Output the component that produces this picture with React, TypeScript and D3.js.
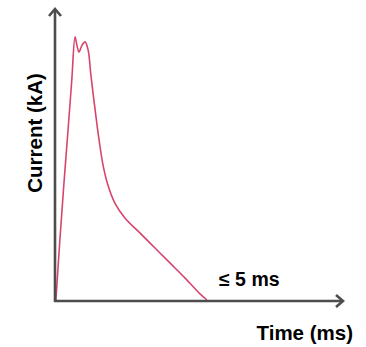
import React from "react";
import * as d3 from "d3";

const timeMs = [0.03, 0.15, 0.28, 0.42, 0.55, 0.66, 0.72, 0.79, 0.89, 0.99, 1.09, 1.18, 1.32, 1.45, 1.58, 1.74, 1.97, 2.3, 2.8, 3.29, 3.78, 4.28, 4.77, 5.0];
const currentKA = [0, 19, 38, 57, 75, 90.1, 87.3, 84.9, 87.3, 88.4, 85.6, 77.1, 65.1, 54.8, 46.2, 39.4, 33.2, 28.1, 22.9, 17.8, 12.7, 7.5, 2.1, 0];
const xLabel = "Time (ms)";
const yLabel = "Current (kA)";
const durationLabel = "≤ 5 ms";

const W = 366;
const H = 347;
const ox = 55;
const oy = 301;
const xEnd = 344;
const yEnd = 8;

export default function App() {
  const x = d3.scaleLinear().domain([0, 5]).range([ox, 207]);
  const y = d3.scaleLinear().domain([0, 100]).range([300, yEnd]);
  const data = timeMs.map((t, i) => [t, currentKA[i]] as [number, number]);
  const line = d3
    .line<[number, number]>()
    .x((d) => x(d[0]))
    .y((d) => y(d[1]))
    .curve(d3.curveCatmullRom.alpha(0.5));
  const axisColor = "#4d4d4d";
  const font = "'Liberation Sans', Arial, sans-serif";
  return (
    <svg
      width={W}
      height={H}
      style={{ position: "absolute", left: 0, top: 0, background: "#fff" }}
    >
      <path d={line(data) || ""} fill="none" stroke="#d8456c" strokeWidth={1.6} />
      {/* y axis */}
      <line x1={ox} y1={oy + 1} x2={ox} y2={yEnd + 1} stroke={axisColor} strokeWidth={2.6} />
      <path
        d={`M${ox - 6},${yEnd + 8} L${ox},${yEnd + 1} L${ox + 6},${yEnd + 8}`}
        fill="none"
        stroke={axisColor}
        strokeWidth={2.6}
      />
      {/* x axis */}
      <line x1={ox - 1} y1={oy} x2={xEnd - 1} y2={oy} stroke={axisColor} strokeWidth={2.6} />
      <path
        d={`M${xEnd - 8},${oy - 6} L${xEnd - 1},${oy} L${xEnd - 8},${oy + 6}`}
        fill="none"
        stroke={axisColor}
        strokeWidth={2.6}
      />
      <text
        x={353}
        y={340}
        textAnchor="end"
        fontFamily={font}
        fontWeight="bold"
        fontSize={20.5}
        fill="#000"
      >
        {xLabel}
      </text>
      <text
        x={219}
        y={286}
        fontFamily={font}
        fontWeight="bold"
        fontSize={19.5}
        fill="#000"
      >
        {durationLabel}
      </text>
      <text
        transform={`translate(42,133) rotate(-90)`}
        textAnchor="middle"
        fontFamily={font}
        fontWeight="bold"
        fontSize={20.5}
        fill="#000"
      >
        {yLabel}
      </text>
    </svg>
  );
}
